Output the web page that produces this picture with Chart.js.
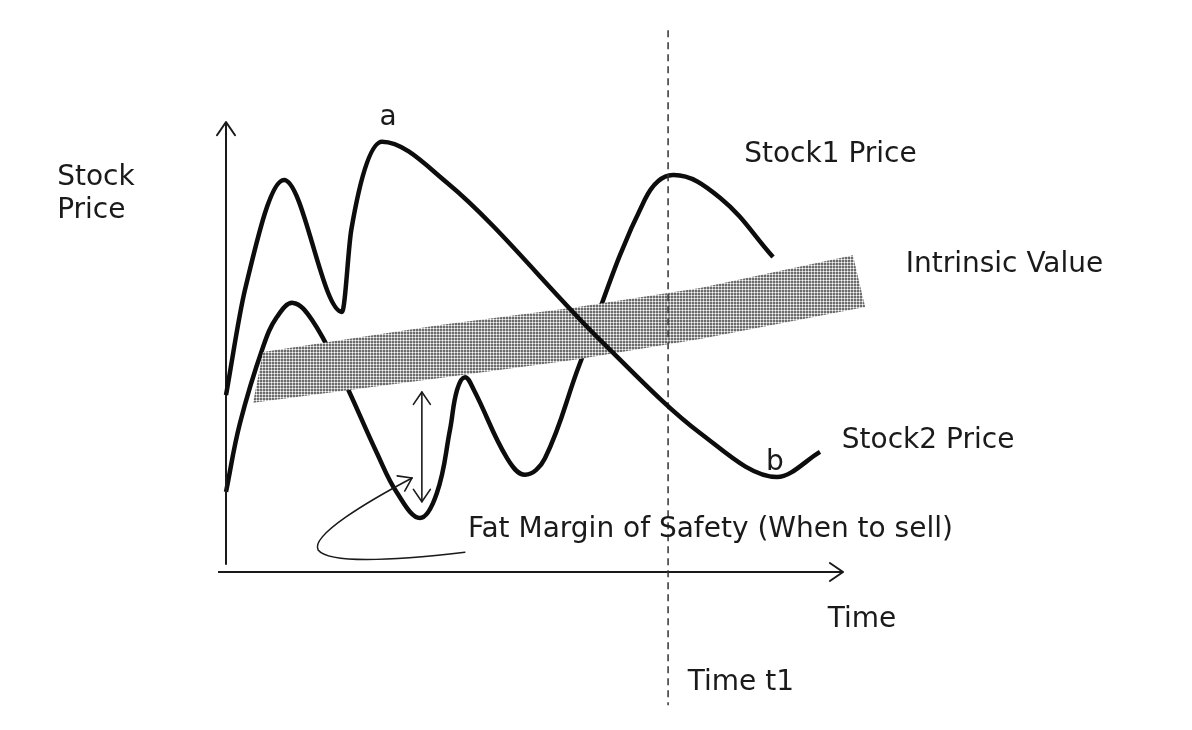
<!DOCTYPE html>
<html>
<head>
<meta charset="utf-8">
<script src="https://cdn.jsdelivr.net/npm/chart.js@4.4.1/dist/chart.umd.min.js"></script>
<style>
  html, body { margin: 0; padding: 0; background: #fff; }
  #wrap { width: 1192px; height: 730px; }
</style>
</head>
<body>
<div id="wrap"><canvas id="chart1" width="1192" height="730"></canvas></div>
<script>
// Stock1 price (lower curve at the start, peaks near time t1)
const stock1X = [0, 2.28, 6.03, 8.31, 10.91, 14.01, 18.57, 24.59, 27.85, 31.6, 34.36, 36.48, 37.62, 38.93, 40.39, 45.77, 48.7, 51.95, 57.65, 68.2, 72.8, 80.5, 89.09]
const stock1Y = [17.8, 33.1, 50, 56.7, 59.8, 56, 44.4, 26.4, 17.6, 12, 17.6, 31.6, 40.4, 43.3, 40.4, 25.3, 21.6, 25.3, 46.4, 82.7, 88.2, 83.1, 70]

// Stock2 price (starts higher, peak "a", bottom "b")
const stock2X = [0, 3.09, 9.45, 18.89, 20.4, 25.41, 36, 60.91, 77.2, 89.74, 96.74]
const stock2Y = [39.3, 62.7, 87.1, 57.8, 76, 95.6, 86.5, 51.6, 30.9, 21.1, 26.7]

// Intrinsic value band, upper and lower edge
const bandTopX = [6.03, 34.85, 56.5, 77.2, 102.1]
const bandTopY = [48.9, 54.9, 58.7, 63.1, 70.4]
const bandBotX = [4.4, 34.85, 56.5, 77.2, 104.1]
const bandBotY = [37.6, 43.1, 47.1, 51.8, 58.9]

const timeT1 = 72

const texts = [
    {t: 'a', x: 26.4, y: 100.9, align: 'center'},
    {t: 'Stock1 Price', x: 84.4, y: 92.7, align: 'left'},
    {t: 'Intrinsic Value', x: 110.7, y: 68.2, align: 'left'},
    {t: 'Stock2 Price', x: 100.3, y: 29.1, align: 'left'},
    {t: 'b', x: 89.4, y: 24.2, align: 'center'},
    {t: 'Fat Margin of Safety (When to sell)', x: 39.4, y: 9.3, align: 'left'},
    {t: 'Time', x: 98, y: -10.7, align: 'left'},
    {t: 'Time t1', x: 75.2, y: -24.7, align: 'left'},
    {t: 'Stock', x: -27.5, y: 87.6, align: 'left'},
    {t: 'Price', x: -27.5, y: 80.2, align: 'left'},
]

function pts(xs, ys) {
    return xs.map((x, i) => ({x: x, y: ys[i]}))
}

// closed outline of the band: top edge left to right, bottom edge back
const bandShape = pts(bandTopX, bandTopY).concat(pts(bandBotX, bandBotY).reverse())

// dotted grey fill for the band
function makePattern() {
    const c = document.createElement('canvas')
    c.width = 3; c.height = 3
    const g = c.getContext('2d')
    g.fillStyle = '#6c6c6c'
    g.fillRect(0, 0, 3, 3)
    g.fillStyle = '#c2c2c2'
    g.fillRect(1, 0, 1, 1)
    g.fillRect(0, 1, 1, 1)
    g.fillRect(2, 1, 1, 1)
    g.fillRect(1, 2, 1, 1)
    g.fillStyle = '#ffffff'
    g.fillRect(1, 1, 1, 1)
    return g.createPattern(c, 'repeat')
}

function arrowHead(ctx, x1, y1, x2, y2, size) {
    const a = Math.atan2(y2 - y1, x2 - x1)
    ctx.beginPath()
    ctx.moveTo(x2 - size * Math.cos(a - 0.6), y2 - size * Math.sin(a - 0.6))
    ctx.lineTo(x2, y2)
    ctx.lineTo(x2 - size * Math.cos(a + 0.6), y2 - size * Math.sin(a + 0.6))
    ctx.stroke()
}

const extras = {
    id: 'extras',
    afterDatasetsDraw(chart) {
        const ctx = chart.ctx
        const xs = chart.scales.x, ys = chart.scales.y
        const X = v => xs.getPixelForValue(v), Y = v => ys.getPixelForValue(v)
        ctx.save()
        ctx.strokeStyle = '#1a1a1a'
        ctx.lineCap = 'round'
        ctx.lineJoin = 'round'

        // axis arrowheads
        ctx.lineWidth = 2
        arrowHead(ctx, X(0), Y(50), X(0), Y(100), 16)
        arrowHead(ctx, X(50), Y(0), X(100.5), Y(0), 16)

        // double arrow (margin of safety)
        ctx.lineWidth = 1.6
        ctx.beginPath()
        ctx.moveTo(X(31.9), Y(40))
        ctx.lineTo(X(31.9), Y(15.6))
        ctx.stroke()
        arrowHead(ctx, X(31.9), Y(20), X(31.9), Y(40), 15)
        arrowHead(ctx, X(31.9), Y(35), X(31.9), Y(15.6), 15)

        // curved pointer from the text
        ctx.beginPath()
        ctx.moveTo(X(38.9), Y(4.4))
        ctx.bezierCurveTo(X(28.3), Y(2.7), X(16.9), Y(1.6), X(15), Y(4.9))
        ctx.bezierCurveTo(X(13.7), Y(8.2), X(23.5), Y(16), X(30.3), Y(20.9))
        ctx.stroke()
        arrowHead(ctx, X(26), Y(18), X(30.3), Y(20.9), 15)

        // labels
        ctx.fillStyle = '#1a1a1a'
        ctx.font = '28px "DejaVu Sans", Verdana, sans-serif'
        ctx.textBaseline = 'middle'
        texts.forEach(l => {
            ctx.textAlign = l.align
            ctx.fillText(l.t, X(l.x), Y(l.y))
        })
        ctx.restore()
    }
}

const ctx1 = document.querySelector('#chart1').getContext('2d')
const chart1 = new Chart(ctx1, {
    type: 'line',
    data: {
        datasets: [
            {
                label: 'Stock1 Price',
                data: pts(stock1X, stock1Y),
                borderColor: '#0d0d0d',
                borderWidth: 4.5,
                tension: 0.4,
                order: 20,  // goes under the band
            },
            {
                label: 'Intrinsic Value',
                data: bandShape,
                borderWidth: 0,
                borderColor: 'rgba(0,0,0,0)',
                backgroundColor: makePattern(),
                fill: 'shape',
                tension: 0,
                order: 10,
            },
            {
                label: 'Stock2 Price',
                data: pts(stock2X, stock2Y),
                borderColor: '#0d0d0d',
                borderWidth: 4.5,
                cubicInterpolationMode: 'monotone',
                order: 1,
            },
            {
                label: 'Time t1',
                data: [{x: timeT1, y: 120.4}, {x: timeT1, y: -29.6}],
                borderColor: '#333',
                borderWidth: 1.5,
                borderDash: [7, 5],
                order: 2,
            },
            {
                label: 'y axis',
                data: [{x: 0, y: 1.6}, {x: 0, y: 100}],
                borderColor: '#1a1a1a',
                borderWidth: 2,
                order: 3,
            },
            {
                label: 'x axis',
                data: [{x: -1.3, y: 0}, {x: 100.5, y: 0}],
                borderColor: '#1a1a1a',
                borderWidth: 2,
                order: 3,
            },
        ],
    },
    options: {
        responsive: false,
        animation: false,
        layout: {padding: 0},
        elements: {point: {radius: 0}},
        plugins: {legend: {display: false}, tooltip: {enabled: false}},
        scales: {
            x: {type: 'linear', display: false, min: -36.81, max: 157.33},
            y: {type: 'linear', display: false, min: -35.11, max: 127.11},
        },
    },
    plugins: [extras],
})
</script>
</body>
</html>
